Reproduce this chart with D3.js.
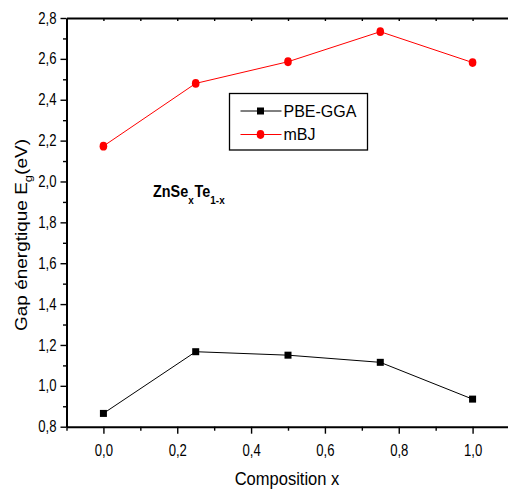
<!DOCTYPE html>
<html>
<head>
<meta charset="utf-8">
<script src="https://cdn.jsdelivr.net/npm/d3@7"></script>
<style>
  html, body { margin: 0; padding: 0; background: #fff; }
  svg { display: block; }
  text { font-family: Arial, "Liberation Sans", sans-serif; fill: #000; }
</style>
</head>
<body>
<svg id="chart" width="508" height="489"></svg>
<script>
// Composition of the ZnSe(x)Te(1-x) alloy
const composition = [0.0, 0.25, 0.5, 0.75, 1.0];
// Band gap (eV) from the two functionals
const pbeGga = [0.865, 1.167, 1.150, 1.115, 0.935];
const mbj = [2.173, 2.480, 2.586, 2.733, 2.582];
// Axis ticks
const xMajorTicks = [0.0, 0.2, 0.4, 0.6, 0.8, 1.0];
const xMinorTicks = [-0.1, 0.1, 0.3, 0.5, 0.7, 0.9, 1.1];
const yMajorTicks = [0.8, 1.0, 1.2, 1.4, 1.6, 1.8, 2.0, 2.2, 2.4, 2.6, 2.8];
const yMinorTicks = [0.9, 1.1, 1.3, 1.5, 1.7, 1.9, 2.1, 2.3, 2.5, 2.7];
const seriesNames = ["PBE-GGA", "mBJ"];

const svg = d3.select("#chart");
const plotLeft = 66.5, plotRight = 509.5, plotTop = 18, plotBottom = 426.7;

const x = d3.scaleLinear().domain([-0.1, 1.1]).range([plotLeft, plotRight]);
const y = d3.scaleLinear().domain([0.8, 2.8]).range([plotBottom, plotTop]);
const comma = d => d.toFixed(1).replace(".", ",");
const squeeze = 0.82;

// bottom axis
const gx = svg.append("g").attr("transform", `translate(0,${plotBottom})`);
gx.call(d3.axisBottom(x).tickValues(xMinorTicks).tickSize(4).tickSizeOuter(0).tickFormat(""));
gx.append("g").call(d3.axisBottom(x).tickValues(xMajorTicks).tickSize(7).tickSizeOuter(0)
  .tickPadding(11).tickFormat(comma))
  .call(g => g.select(".domain").remove());
// keep labels centred on their ticks after squeezing
gx.selectAll(".tick text").attr("font-size", 16).each(function() {
  const yv = +d3.select(this).attr("y");
  d3.select(this).attr("y", 0).attr("transform", `translate(0,${yv}) scale(${squeeze},1)`);
});

// top frame line
const gt = svg.append("g").attr("transform", `translate(0,${plotTop})`);
gt.call(d3.axisBottom(x).tickValues(d3.range(0, 11).map(i => i / 10)).tickSize(3).tickSizeOuter(0).tickFormat(""));

// left axis
const gy = svg.append("g").attr("transform", `translate(${plotLeft},0)`);
gy.call(d3.axisLeft(y).tickValues(yMinorTicks).tickSize(3.5).tickSizeOuter(0).tickFormat(""));
gy.append("g").call(d3.axisLeft(y).tickValues(yMajorTicks).tickSize(6).tickSizeOuter(0)
  .tickPadding(4).tickFormat(comma))
  .call(g => g.select(".domain").remove());
gy.selectAll(".tick text").attr("font-size", 16).each(function() {
  const xv = +d3.select(this).attr("x");
  d3.select(this).attr("x", 0).attr("transform", `translate(${xv},0) scale(${squeeze},1)`);
});

svg.selectAll(".domain").attr("stroke-width", 2);
svg.selectAll(".tick line").attr("stroke-width", 1.4);

// axis titles
svg.append("text")
  .attr("transform", `translate(287,485) scale(${squeeze + 0.05},1)`)
  .attr("text-anchor", "middle").attr("font-size", 19)
  .text("Composition x");

const yt = svg.append("text")
  .attr("transform", "translate(27,235) rotate(-90) scale(1,0.9)")
  .attr("text-anchor", "middle").attr("font-size", 19);
yt.append("tspan").text("Gap énergtique E");
yt.append("tspan").attr("font-size", 13).attr("dy", 5).text("g");
yt.append("tspan").attr("dy", -5).text("(eV)");

// series
const rows = composition.map((c, i) => ({ c, pbe: pbeGga[i], mbj: mbj[i] }));

svg.append("path").datum(rows)
  .attr("fill", "none").attr("stroke", "#000").attr("stroke-width", 1)
  .attr("d", d3.line().x(d => x(d.c)).y(d => y(d.pbe)));
svg.append("path").datum(rows)
  .attr("fill", "none").attr("stroke", "#ff0000").attr("stroke-width", 1)
  .attr("d", d3.line().x(d => x(d.c)).y(d => y(d.mbj)));

svg.selectAll(".sq").data(rows).join("rect")
  .attr("x", d => x(d.c) - 3.5).attr("y", d => y(d.pbe) - 3.5)
  .attr("width", 7).attr("height", 7).attr("fill", "#000");
svg.selectAll(".dot").data(rows).join("ellipse")
  .attr("cx", d => x(d.c)).attr("cy", d => y(d.mbj))
  .attr("rx", 3.8).attr("ry", 4.4).attr("fill", "#ff0000");

// legend
const lg = svg.append("g").attr("transform", "translate(229.5,93.5)");
lg.append("rect").attr("width", 138).attr("height", 56.5)
  .attr("fill", "#fff").attr("stroke", "#000").attr("stroke-width", 1.3);
const legendColors = ["#000", "#ff0000"];
seriesNames.forEach((name, i) => {
  const cy = 17.5 + i * 23.5;
  lg.append("line").attr("x1", 11).attr("x2", 52).attr("y1", cy).attr("y2", cy)
    .attr("stroke", legendColors[i]).attr("stroke-width", 1);
  if (i === 0) {
    lg.append("rect").attr("x", 27.5).attr("y", cy - 3.5).attr("width", 7).attr("height", 7).attr("fill", "#000");
  } else {
    lg.append("ellipse").attr("cx", 31).attr("cy", cy).attr("rx", 3.8).attr("ry", 4.4).attr("fill", "#ff0000");
  }
  lg.append("text").attr("x", 54).attr("y", cy + 5.5).attr("font-size", 16).text(name);
});

// compound label
const ann = svg.append("text")
  .attr("transform", "translate(153,197) scale(0.9,1)")
  .attr("font-size", 16).attr("font-weight", "bold");
ann.append("tspan").text("ZnSe");
ann.append("tspan").attr("font-size", 11).attr("dy", 7).text("x");
ann.append("tspan").attr("dy", -7).attr("dx", 1).text("Te");
ann.append("tspan").attr("font-size", 11).attr("dy", 7).text("1-x");
</script>
</body>
</html>
